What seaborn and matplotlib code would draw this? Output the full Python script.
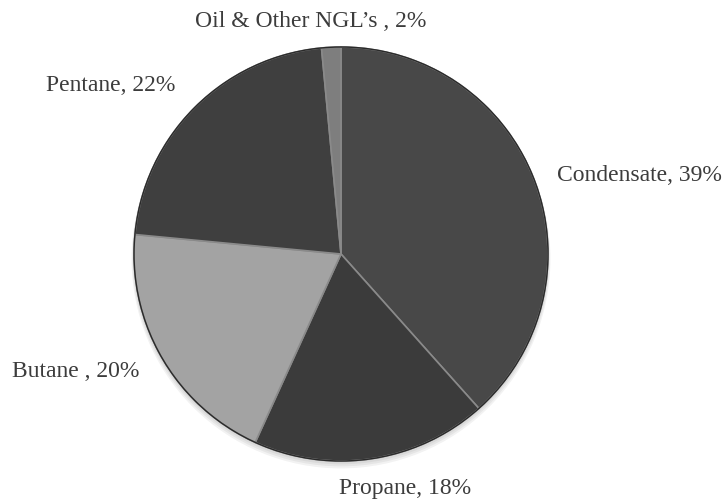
import matplotlib
matplotlib.use("Agg")
import matplotlib.pyplot as plt
import seaborn as sns

# ---- data ----
categories = ["Condensate", "Propane", "Butane", "Pentane", "Oil & Other NGL\u2019s"]
shares = [38.4, 18.4, 19.7, 22.0, 1.5]
label_texts = ["Condensate, 39%", "Propane, 18%", "Butane , 20%", "Pentane, 22%",
               "Oil & Other NGL\u2019s , 2%"]

# ---- style / layout ----
colors = ["#484848", "#3b3b3b", "#a3a3a3", "#3f3f3f", "#7e7e7e"]
label_xy = [(1.444, 0.386), (0.309, -1.126), (-1.28, -0.565), (-1.111, 0.821), (-0.145, 1.126)]

sns.set_theme(style="white")
plt.rcParams["font.family"] = ["Liberation Serif", "DejaVu Serif"]

W, H, DPI = 727, 502, 100
cx, cy, r = 341, 255, 207
fig = plt.figure(figsize=(W / DPI, H / DPI), dpi=DPI)
ax = fig.add_axes([0, 0, 1, 1])

wedges, _ = ax.pie(shares, colors=colors, startangle=90, counterclock=False,
                   wedgeprops=dict(edgecolor="#8a8a8a", linewidth=1.2),
                   radius=1.0)

# soft shadow under pie (layered)
for i, a in enumerate([0.05, 0.05, 0.05, 0.05]):
    ax.add_patch(plt.Circle((0.0, -0.006 * (i + 1)), 1.0 + 0.004 * i,
                            color="#000000", alpha=a, zorder=0, lw=0))
# dark outer rim
ax.add_patch(plt.Circle((0, 0), 1.0, fill=False, edgecolor="#2a2a2a", lw=1.0, zorder=3))

for txt, (x, y) in zip(label_texts, label_xy):
    ax.text(x, y, txt, ha="center", va="center", fontsize=17, color="#3c3c3c")

ax.set_xlim((0 - cx) / r, (W - cx) / r)
ax.set_ylim((cy - H) / r, cy / r)
ax.set_aspect("equal")
ax.axis("off")

fig.savefig("out.png", dpi=DPI, facecolor="white")
